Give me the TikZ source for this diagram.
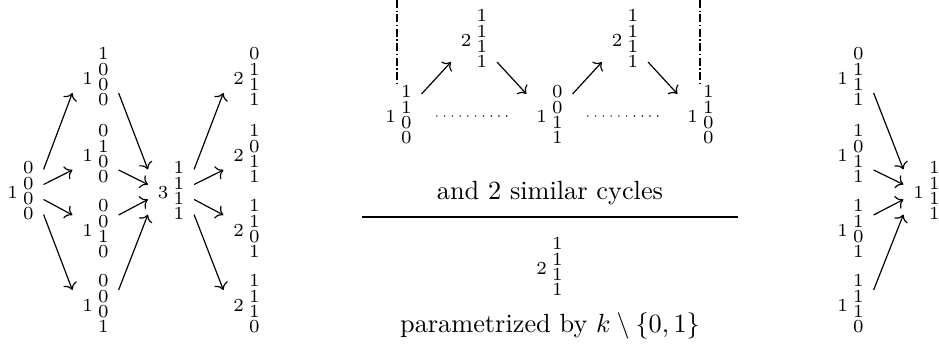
\documentclass[tikz,border=0pt]{standalone}
\usetikzlibrary{arrows.meta}
\newcommand{\dgt}[1]{\hbox{\vrule height 4.4pt depth 1.1pt width 0pt\scriptsize #1}}
\newcommand{\stk}[5]{{\scriptsize #1}\hspace{2pt}$\vcenter{\offinterlineskip\dgt{#2}\dgt{#3}\dgt{#4}\dgt{#5}}$}
\begin{document}
\begin{tikzpicture}[x=0.38pt,y=-0.38pt,
  st/.style={inner xsep=3.6pt,inner ysep=0pt},
  ar/.style={->,line width=0.45pt},
  dots/.style={line width=0.6pt,line cap=round,dash pattern=on 0pt off 2.95pt},
  dd/.style={line width=0.5pt,densely dashdotted}]
\useasboundingbox (0,0) rectangle (939,345);
% left panel
\node[st] (L) at (20.5,192) {\stk{1}{0}{0}{0}{0}};
\node[st] (A1) at (95.5,78) {\stk{1}{1}{0}{0}{0}};
\node[st] (A2) at (95.5,155) {\stk{1}{0}{1}{0}{0}};
\node[st] (A3) at (95.5,230) {\stk{1}{0}{0}{1}{0}};
\node[st] (A4) at (95.5,305) {\stk{1}{0}{0}{0}{1}};
\node[st] (M) at (171,192) {\stk{3}{1}{1}{1}{1}};
\node[st] (B1) at (246.5,78) {\stk{2}{0}{1}{1}{1}};
\node[st] (B2) at (246.5,155) {\stk{2}{1}{0}{1}{1}};
\node[st] (B3) at (246.5,230) {\stk{2}{1}{1}{0}{1}};
\node[st] (B4) at (246.5,305) {\stk{2}{1}{1}{1}{0}};
\draw[ar] ([yshift=8.6pt]L.east) -- ([yshift=-5.7pt]A1.west);
\draw[ar] ([yshift=2.85pt]L.east) -- ([yshift=-5.7pt]A2.west);
\draw[ar] ([yshift=-2.85pt]L.east) -- ([yshift=5.7pt]A3.west);
\draw[ar] ([yshift=-8.6pt]L.east) -- ([yshift=5.7pt]A4.west);
\draw[ar] ([yshift=-5.7pt]A1.east) -- ([yshift=8.6pt]M.west);
\draw[ar] ([yshift=-5.7pt]A2.east) -- ([yshift=2.85pt]M.west);
\draw[ar] ([yshift=5.7pt]A3.east) -- ([yshift=-2.85pt]M.west);
\draw[ar] ([yshift=5.7pt]A4.east) -- ([yshift=-8.6pt]M.west);
\draw[ar] ([yshift=8.6pt]M.east) -- ([yshift=-5.7pt]B1.west);
\draw[ar] ([yshift=2.85pt]M.east) -- ([yshift=-5.7pt]B2.west);
\draw[ar] ([yshift=-2.85pt]M.east) -- ([yshift=5.7pt]B3.west);
\draw[ar] ([yshift=-8.6pt]M.east) -- ([yshift=5.7pt]B4.west);
% middle panel
\node[st] (LC) at (398.5,116) {\stk{1}{1}{1}{0}{0}};
\node[st] (T1) at (474,40) {\stk{2}{1}{1}{1}{1}};
\node[st] (MC) at (549.5,116) {\stk{1}{0}{0}{1}{1}};
\node[st] (T2) at (625,40) {\stk{2}{1}{1}{1}{1}};
\node[st] (RC) at (700.5,116) {\stk{1}{1}{1}{0}{0}};
\draw[ar] ([yshift=8.4pt]LC.east) -- ([yshift=-8.4pt]T1.west);
\draw[ar] ([yshift=-8.4pt]T1.east) -- ([yshift=8.4pt]MC.west);
\draw[ar] ([yshift=8.4pt]MC.east) -- ([yshift=-8.4pt]T2.west);
\draw[ar] ([yshift=-8.4pt]T2.east) -- ([yshift=8.4pt]RC.west);
\draw[dots] ([xshift=5.8pt]LC.east) -- ([xshift=-5.8pt]MC.west);
\draw[dots] ([xshift=5.8pt]MC.east) -- ([xshift=-5.8pt]RC.west);
\coordinate (dl) at (397,0);
\coordinate (dr) at (700,0);
\draw[dd] (dl) -- (LC.north -| dl);
\draw[dd] (dr) -- (RC.north -| dr);
\node[anchor=base,inner sep=0pt] (cyc) at (550,200) {and 2 similar cycles};
\coordinate (r1) at (362,217);
\coordinate (r2) at (738,217);
\draw[line width=0.45pt] (r1) -- (r2);
\node[st] (BN) at (549.5,268) {\stk{2}{1}{1}{1}{1}};
\node[anchor=base,inner sep=0pt] (par) at (550,333) {parametrized by $k\setminus\{0,1\}$};
% right panel
\node[st] (C1) at (850.5,78) {\stk{1}{0}{1}{1}{1}};
\node[st] (C2) at (850.5,155) {\stk{1}{1}{0}{1}{1}};
\node[st] (C3) at (850.5,230) {\stk{1}{1}{1}{0}{1}};
\node[st] (C4) at (850.5,305) {\stk{1}{1}{1}{1}{0}};
\node[st] (N) at (926.5,192) {\stk{1}{1}{1}{1}{1}};
\draw[ar] ([yshift=-5.7pt]C1.east) -- ([yshift=8.6pt]N.west);
\draw[ar] ([yshift=-5.7pt]C2.east) -- ([yshift=2.85pt]N.west);
\draw[ar] ([yshift=5.7pt]C3.east) -- ([yshift=-2.85pt]N.west);
\draw[ar] ([yshift=5.7pt]C4.east) -- ([yshift=-8.6pt]N.west);
\end{tikzpicture}
\end{document}
